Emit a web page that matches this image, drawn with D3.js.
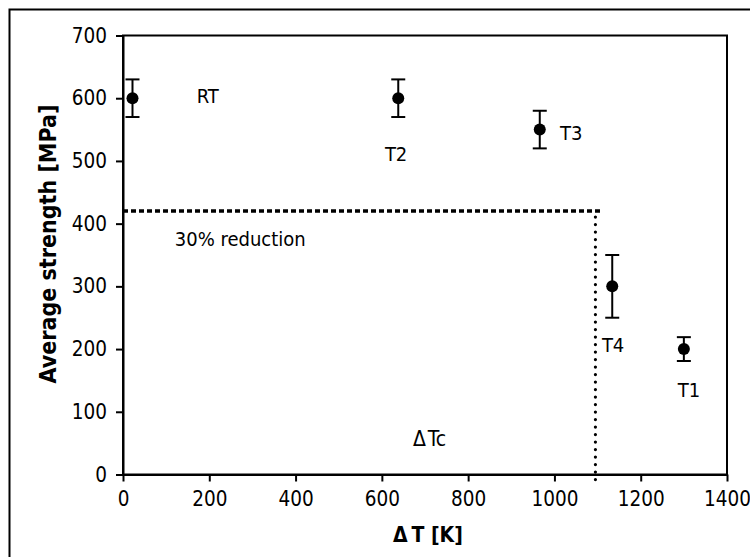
<!DOCTYPE html>
<html>
<head>
<meta charset="utf-8">
<script src="https://cdn.jsdelivr.net/npm/d3@7"></script>
<style>
  body { margin: 0; background: #fff; }
  text { font-family: "DejaVu Sans Condensed", "Noto Sans", sans-serif; fill: #000; }
</style>
</head>
<body>
<script>
// data
var labels   = ["RT", "T2", "T3", "T4", "T1"];
var deltaT   = [22, 638, 966, 1134, 1300];
var strength = [600, 600, 550, 300, 200];
var errors   = [30, 30, 30, 50, 19];

// where the sample names sit, in data units (left edge, baseline)
var labelX = [171, 607, 1013, 1110, 1286];
var labelY = [592, 500, 533, 196, 124];

var xTicks = [0, 200, 400, 600, 800, 1000, 1200, 1400];
var yTicks = [0, 100, 200, 300, 400, 500, 600, 700];

// reference lines: 30% reduction of 600 MPa and the critical ΔT
var reduction = 420;
var deltaTc = 1095;

var width = 750, height = 557;
var margin = {top: 35.5, right: 23, bottom: 82.5, left: 123};

var x = d3.scaleLinear().domain([0, 1400]).range([margin.left, width - margin.right]);
var y = d3.scaleLinear().domain([0, 700]).range([height - margin.bottom, margin.top]);

var svg = d3.select("body").append("svg")
    .attr("width", width)
    .attr("height", height);

// outer frame (runs off the right and bottom edges)
svg.append("rect")
    .attr("x", 9.5).attr("y", 9.5)
    .attr("width", 800).attr("height", 600)
    .attr("fill", "none")
    .attr("stroke", "#000")
    .attr("stroke-width", 2);

// plot box
svg.append("rect")
    .attr("x", x(0)).attr("y", y(700))
    .attr("width", x(1400) - x(0))
    .attr("height", y(0) - y(700))
    .attr("fill", "none")
    .attr("stroke", "#000")
    .attr("stroke-width", 2);

var xAxis = svg.append("g")
    .attr("transform", "translate(0," + y(0) + ")")
    .call(d3.axisBottom(x).tickValues(xTicks).tickFormat(d3.format("d"))
        .tickSize(7).tickSizeOuter(0).tickPadding(10));

var yAxis = svg.append("g")
    .attr("transform", "translate(" + x(0) + ",0)")
    .call(d3.axisLeft(y).tickValues(yTicks).tickFormat(d3.format("d"))
        .tickSize(7).tickSizeOuter(0).tickPadding(9));

[xAxis, yAxis].forEach(function(g) {
    g.selectAll("path, line").attr("stroke", "#000").attr("stroke-width", 2);
    g.selectAll("text").attr("font-size", 20.5)
        .style("font-family", "\"DejaVu Sans Condensed\", \"Noto Sans\", sans-serif");
});

// reference lines
svg.append("line")
    .attr("x1", x(0)).attr("x2", x(1112))
    .attr("y1", y(reduction)).attr("y2", y(reduction))
    .attr("stroke", "#000")
    .attr("stroke-width", 3.5)
    .attr("stroke-dasharray", "5,3");

svg.append("line")
    .attr("x1", x(deltaTc)).attr("x2", x(deltaTc))
    .attr("y1", y(reduction) + 6).attr("y2", y(-14))
    .attr("stroke", "#000")
    .attr("stroke-width", 3.2)
    .attr("stroke-linecap", "round")
    .attr("stroke-dasharray", "0,7.5");

// error bars and points
var pts = labels.map(function(d, i) {
    return {name: d, dt: deltaT[i], s: strength[i], e: errors[i]};
});

var bars = svg.selectAll(".err")
    .data(pts)
    .enter().append("g")
    .attr("class", "err")
    .attr("stroke", "#000")
    .attr("stroke-width", 2);

bars.append("line")
    .attr("x1", function(d) { return x(d.dt); })
    .attr("x2", function(d) { return x(d.dt); })
    .attr("y1", function(d) { return y(d.s + d.e); })
    .attr("y2", function(d) { return y(d.s - d.e); });

bars.append("line")
    .attr("x1", function(d) { return x(d.dt) - 7; })
    .attr("x2", function(d) { return x(d.dt) + 7; })
    .attr("y1", function(d) { return y(d.s + d.e); })
    .attr("y2", function(d) { return y(d.s + d.e); });

bars.append("line")
    .attr("x1", function(d) { return x(d.dt) - 7; })
    .attr("x2", function(d) { return x(d.dt) + 7; })
    .attr("y1", function(d) { return y(d.s - d.e); })
    .attr("y2", function(d) { return y(d.s - d.e); });

svg.selectAll(".dot")
    .data(pts)
    .enter().append("circle")
    .attr("class", "dot")
    .attr("cx", function(d) { return x(d.dt); })
    .attr("cy", function(d) { return y(d.s); })
    .attr("r", 6)
    .attr("fill", "#000");

// sample names
svg.selectAll(".lbl")
    .data(labels)
    .enter().append("text")
    .attr("class", "lbl")
    .attr("x", function(d, i) { return x(labelX[i]); })
    .attr("y", function(d, i) { return y(labelY[i]); })
    .attr("font-size", 20)
    .text(function(d) { return d; });

svg.append("text")
    .attr("x", x(120)).attr("y", y(364))
    .attr("font-size", 20)
    .text("30% reduction");

svg.append("text")
    .attr("x", x(672)).attr("y", y(45))
    .attr("font-size", 21)
    .text("Δ\u200ATc");

// axis titles
svg.append("text")
    .attr("x", 428).attr("y", 541.5)
    .attr("text-anchor", "middle")
    .attr("font-size", 21)
    .attr("font-weight", "bold")
    .text("Δ\u2009T [K]");

svg.append("text")
    .attr("transform", "rotate(-90)")
    .attr("x", -244).attr("y", 48)
    .attr("dy", "0.35em")
    .attr("text-anchor", "middle")
    .attr("font-size", 23)
    .attr("font-weight", "bold")
    .text("Average strength [MPa]");
</script>
</body>
</html>
